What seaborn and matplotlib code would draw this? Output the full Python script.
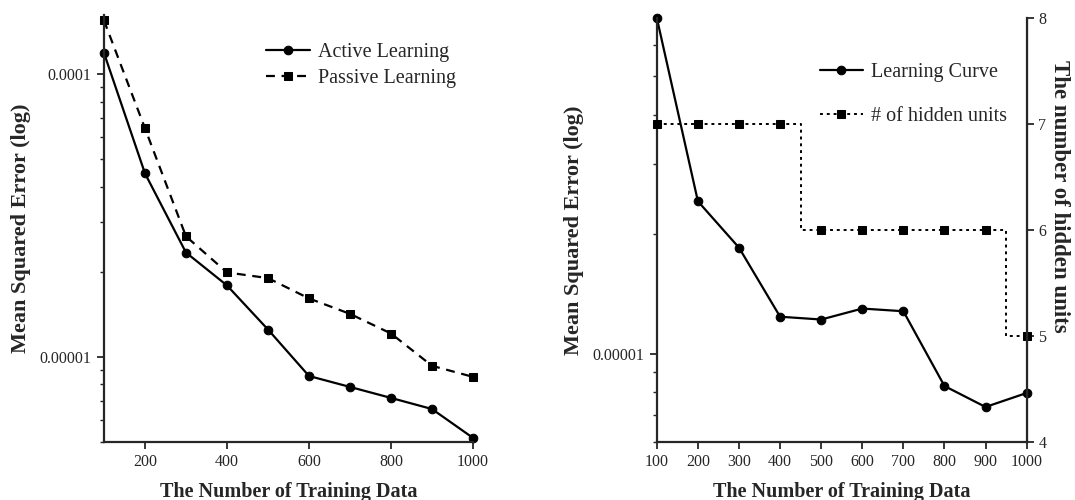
import matplotlib
matplotlib.use('Agg')
import matplotlib.pyplot as plt
import matplotlib.ticker as mticker
import seaborn as sns
import pandas as pd

# data
n_train = [100, 200, 300, 400, 500, 600, 700, 800, 900, 1000]
active_mse = [1.19e-4, 4.46e-5, 2.34e-5, 1.79e-5, 1.25e-5, 8.56e-6, 7.83e-6, 7.16e-6, 6.54e-6, 5.17e-6]
passive_mse = [1.55e-4, 6.44e-5, 2.67e-5, 1.99e-5, 1.90e-5, 1.61e-5, 1.42e-5, 1.21e-5, 9.3e-6, 8.5e-6]
curve_mse = [7.0e-5, 2.42e-5, 1.85e-5, 1.24e-5, 1.22e-5, 1.30e-5, 1.28e-5, 8.3e-6, 7.35e-6, 7.97e-6]
hidden_units = [7, 7, 7, 7, 6, 6, 6, 6, 6, 5]

sns.set_style('ticks')
plt.rcParams['font.family'] = ['Liberation Serif', 'DejaVu Serif']
plt.rcParams['xtick.direction'] = 'out'
plt.rcParams['ytick.direction'] = 'out'

df = pd.DataFrame({'n': n_train, 'active': active_mse, 'passive': passive_mse,
                   'curve': curve_mse, 'hidden': hidden_units})

fig = plt.figure(figsize=(10.75, 5), dpi=100)
ax1 = fig.add_axes([0.0967, 0.116, 0.3433, 0.854])
ax2 = fig.add_axes([0.611, 0.116, 0.344, 0.848])

xlbl_font = dict(fontsize=14.5, fontweight='bold')
ylbl_font = dict(fontsize=16, fontweight='bold')
tick_fs = 11.5
leg_fs = 14.5
mk = 6.2


def style_log_axis(ax):
    ax.set_yscale('log')
    ax.yaxis.set_major_locator(mticker.FixedLocator([1e-5, 1e-4]))
    ax.yaxis.set_major_formatter(mticker.FixedFormatter(['0.00001', '0.0001']))
    ax.yaxis.set_minor_locator(mticker.LogLocator(base=10, subs=range(2, 10)))
    ax.yaxis.set_minor_formatter(mticker.NullFormatter())
    ax.tick_params(axis='both', which='major', length=5, width=1.3,
                   labelsize=tick_fs, pad=4)
    ax.tick_params(axis='y', which='minor', length=3, width=1.0)
    for s in ['left', 'bottom']:
        ax.spines[s].set_linewidth(1.6)


# ---- left panel: active vs passive ----
sns.lineplot(data=df, x='n', y='active', ax=ax1, color='black', lw=1.6,
             marker='o', markersize=mk, markeredgecolor='black',
             label='Active Learning', clip_on=False)
sns.lineplot(data=df, x='n', y='passive', ax=ax1, color='black', lw=1.6,
             linestyle=(0, (4, 3)), marker='s', markersize=mk,
             markeredgecolor='black', label='Passive Learning', clip_on=False)
style_log_axis(ax1)
ax1.set_xlim(100, 1000)
ax1.set_ylim(5e-6, 1.62e-4)
ax1.set_xticks([200, 400, 600, 800, 1000])
sns.despine(ax=ax1)
ax1.set_xlabel('The Number of Training Data', labelpad=8, **xlbl_font)
ax1.set_ylabel('Mean Squared Error (log)', labelpad=6, **ylbl_font)
ax1.legend(loc='upper left', bbox_to_anchor=(0.44, 0.934), frameon=False,
           fontsize=leg_fs, handlelength=2.15, handletextpad=0.4,
           labelspacing=0.35, borderpad=0, borderaxespad=0)

# ---- right panel: learning curve + hidden units ----
sns.lineplot(data=df, x='n', y='curve', ax=ax2, color='black', lw=1.6,
             marker='o', markersize=mk, markeredgecolor='black',
             label='Learning Curve', clip_on=False, legend=False)
style_log_axis(ax2)
ax2.set_xlim(100, 1000)
ax2.set_ylim(6e-6, 7e-5)
ax2.set_xticks(n_train)
ax2.set_xlabel('The Number of Training Data', labelpad=8, **xlbl_font)
ax2.set_ylabel('Mean Squared Error (log)', labelpad=6, **ylbl_font)

ax3 = ax2.twinx()
sns.lineplot(data=df, x='n', y='hidden', ax=ax3, color='black', lw=1.4,
             linestyle=(0, (1.5, 2)), drawstyle='steps-mid', marker='s',
             markersize=mk, markeredgecolor='black',
             label='# of hidden units', clip_on=False, legend=False)
ax3.set_ylim(4, 8)
ax3.set_yticks([4, 5, 6, 7, 8])
ax3.tick_params(axis='y', length=5, width=1.3, labelsize=tick_fs)
ax3.set_ylabel('The number of hidden units', rotation=270,
               fontsize=16.5, fontweight='bold', va='center')
ax3.yaxis.set_label_coords(1.09, 0.58)
for a in (ax2, ax3):
    a.spines['top'].set_visible(False)
ax3.spines['right'].set_linewidth(1.6)
ax3.spines['left'].set_visible(False)
ax3.spines['bottom'].set_visible(False)

h2, l2 = ax2.get_legend_handles_labels()
h3, l3 = ax3.get_legend_handles_labels()
ax3.legend(h2 + h3, l2 + l3, loc='upper left', bbox_to_anchor=(0.44, 0.894),
           frameon=False, fontsize=leg_fs, handlelength=2.15, handletextpad=0.4,
           labelspacing=1.25, borderpad=0, borderaxespad=0)

plt.savefig('out.png', dpi=100)
plt.close()
